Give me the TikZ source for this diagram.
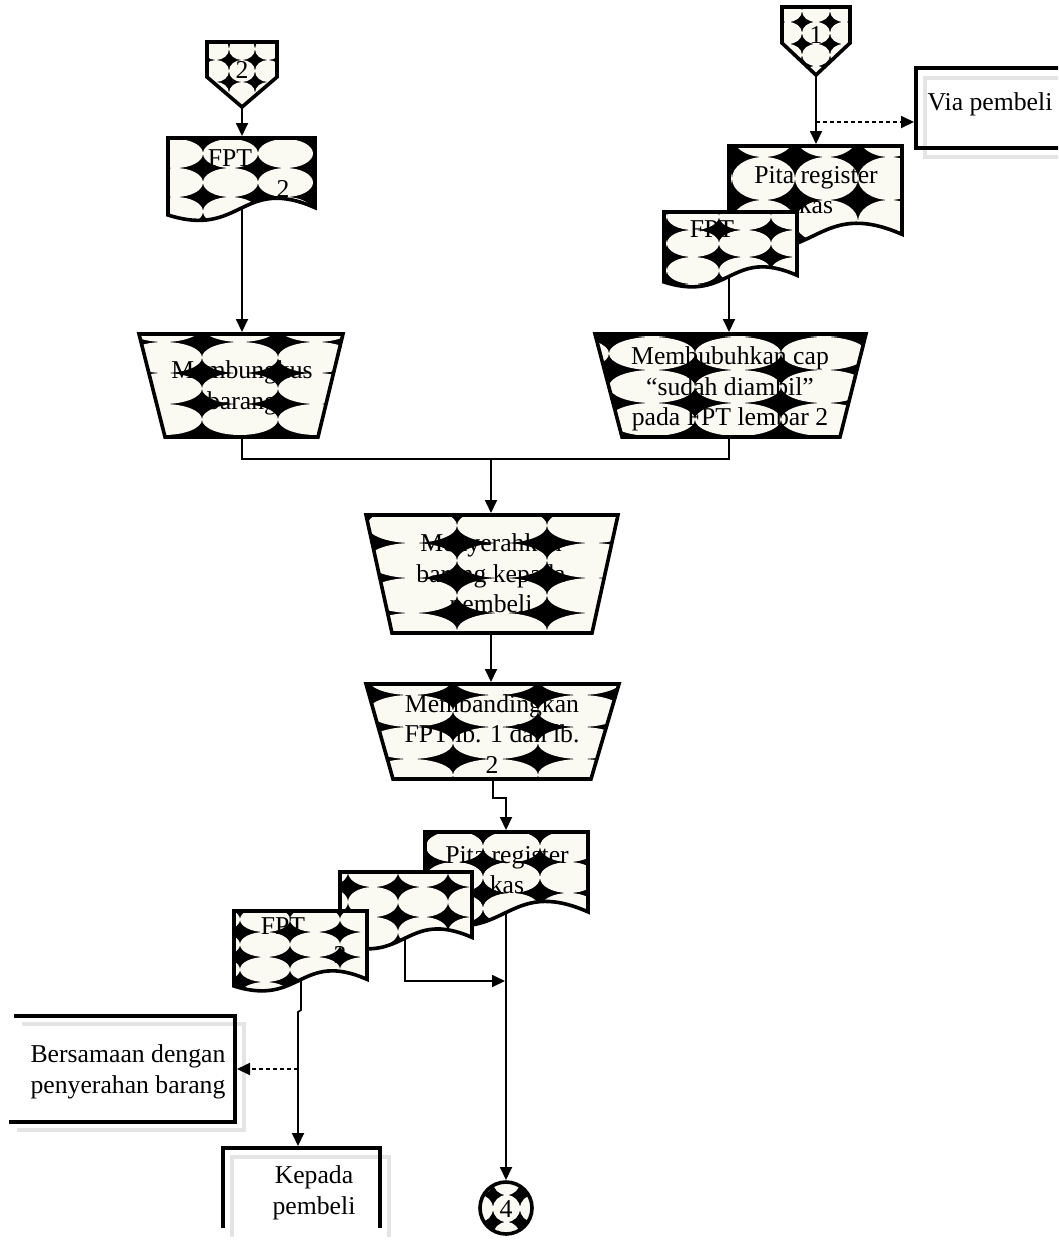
\documentclass[tikz,border=0pt]{standalone}
\usepackage{fontspec}
\setmainfont{Liberation Serif}
\usetikzlibrary{arrows.meta}
\definecolor{tilewhite}{RGB}{250,250,243}
\definecolor{shadowgray}{RGB}{228,228,228}
\tikzset{
  tile/.style={fill=tilewhite},
  outline/.style={draw=black, line width=3.6pt, line join=miter},
  flow/.style={line width=1.8pt, -{Triangle[length=13pt,width=12pt]}},
  plain/.style={line width=1.8pt},
  dotflow/.style={line width=1.8pt, dash pattern=on 4pt off 3pt, -{Triangle[length=13pt,width=12pt]}},
  txt/.style={inner sep=0pt, align=center, font=\fontsize{25.7}{30.5}\selectfont},
  shadowline/.style={draw=shadowgray, line width=3.6pt},
  boxline/.style={draw=black, line width=3.6pt, line join=miter},
}
% document symbol: top-left corner, width, height (wavy bottom edge)
\newcommand\docshape[4]{(#1,#2) -- ({#1+#3},#2) -- ({#1+#3},{#2+#4-0.05*#3}) .. controls ({#1+0.5*#3},{#2+#4-0.27*#3}) and ({#1+0.5*#3},{#2+#4+0.16*#3}) .. (#1,{#2+#4}) -- cycle}
% shape filled with a tiled ellipse texture, then outlined
% #1 path, #2-#5 bounding box, #6-#7 grid corner, #8-#9 cell size
\newcommand\tileshape[9]{%
  \begin{scope}
    \clip #1;
    \fill[black] (#2,#3) rectangle (#4,#5);
    \pgfmathtruncatemacro\tsia{floor((#2-#6)/#8)-1}%
    \pgfmathtruncatemacro\tsib{ceil((#4-#6)/#8)}%
    \pgfmathtruncatemacro\tsja{floor((#3-#7)/#9)-1}%
    \pgfmathtruncatemacro\tsjb{ceil((#5-#7)/#9)}%
    \foreach \i in {\tsia,...,\tsib}{%
      \foreach \j in {\tsja,...,\tsjb}{%
        \fill[tile] ({#6+(\i+0.5)*#8},{#7+(\j+0.5)*#9}) ellipse [x radius={#8*0.5pt}, y radius={#9*0.5pt}];
      }}
  \end{scope}
  \draw[outline] #1;}

\begin{document}
\begin{tikzpicture}[x=1pt,y=-1pt]
\useasboundingbox (0,0) rectangle (1058,1240);
\clip (0,0) rectangle (1058,1240);
\fill[white] (0,0) rectangle (1058,1240);

% ---- left column: connector 2, FPT sheet 2, packing ----
\tileshape{(207,42) -- (277,42) -- (277,77) -- (242,107) -- (207,77) -- cycle}{207}{42}{277}{107}{229}{60}{26}{22}
\tileshape{\docshape{168}{138}{147}{77}}{168}{138}{315}{240}{203}{168}{55}{29}
\tileshape{(139,334) -- (343,334) -- (318,437) -- (165,437) -- cycle}{139}{334}{343}{437}{202}{342}{76}{31}

% ---- right column: connector 1, register tape, FPT sheet 1, stamping ----
\tileshape{(782,7) -- (850,7) -- (850,43) -- (816,75) -- (782,43) -- cycle}{782}{7}{850}{75}{802}{22}{28}{22}
\tileshape{\docshape{729}{146}{173}{97}}{729}{146}{902}{275}{795}{157}{63}{43}
\tileshape{\docshape{664}{212}{133}{70}}{664}{212}{797}{300}{719}{230}{52}{27}
\tileshape{(595,334) -- (866,334) -- (840,437) -- (622,437) -- cycle}{595}{334}{866}{437}{695}{337}{86}{33}

% ---- centre: handing over, comparing ----
\tileshape{(366,515) -- (618,515) -- (592,633) -- (392,633) -- cycle}{366}{515}{618}{633}{457}{543}{90}{35}
\tileshape{(366,684) -- (619,684) -- (591,779) -- (393,779) -- cycle}{366}{684}{619}{779}{453}{695}{85}{32}

% ---- stacked documents ----
\tileshape{\docshape{425}{832}{163}{88}}{425}{832}{588}{960}{483}{862}{57}{31}
\tileshape{\docshape{340}{872}{132}{72}}{340}{872}{472}{970}{398}{887}{50}{30}
\tileshape{\docshape{234}{911}{133}{75}}{234}{911}{367}{1010}{240}{932}{50}{25}

% ---- connector 4 ----
\tileshape{(506,1208) circle [radius=26pt]}{478}{1180}{534}{1236}{493}{1195}{27}{27}

% ---- annotation boxes ----
\draw[shadowline] (1070,78) -- (925,78) -- (925,157) -- (1070,157);
\draw[boxline] (1070,68) -- (916,68) -- (916,148) -- (1070,148);
\draw[shadowline] (17,1130) -- (244,1130) -- (244,1024) -- (22,1024);
\draw[boxline] (9,1122) -- (235,1122) -- (235,1016) -- (14,1016);
\draw[shadowline] (232,1237) -- (232,1157) -- (389,1157) -- (389,1237);
\draw[boxline] (223,1228) -- (223,1148) -- (380,1148) -- (380,1228);

% ---- texts ----
\node[txt] (t-c2) at (242,70) {2};
\node[txt] (t-fpt2a) at (230,158) {FPT};
\node[txt] (t-fpt2b) at (283,189) {2};
\node[txt] (t-c1) at (816,35) {1};
\node[txt] (t-pita1) at (816,190) {Pita register\\kas};
\node[txt] (t-fpt1a) at (712,229) {FPT};
\node[txt] (t-fpt1b) at (770,260) {1};
\node[txt] (t-mb) at (242,388) {Membungkus\\barang};
\node[txt] (t-cap) at (730,389) {Membubuhkan cap\\“sudah diambil”\\pada FPT lembar 2};
\node[txt] (t-srh) at (491,576) {Menyerahkan\\barang kepada\\pembeli};
\node[txt] (t-bnd) at (492,734) {Membandingkan\\FPT lb. 1 dan lb.\\2};
\node[txt] (t-pita2) at (507,870) {Pita register\\kas};
\node[txt] (t-fpt3a) at (283,926) {FPT};
\node[txt] (t-fpt3b) at (340,955) {3};
\node[txt] (t-via) at (990,104) {Via pembeli};
\node[txt] (t-bs) at (128,1072) {Bersamaan dengan\\penyerahan barang};
\node[txt] (t-kp) at (314,1193) {Kepada\\pembeli};
\node[txt] (t-c4) at (506,1209) {4};

% ---- connector end points ----
\coordinate (c2-s) at (242,107);
\coordinate (fpt2-n) at (242,136);
\coordinate (fpt2-s) at (242,208);
\coordinate (mb-n) at (242,332);
\coordinate (mb-s) at (242,437);
\coordinate (c1-s) at (816,75);
\coordinate (c1-tap) at (816,122);
\coordinate (via-w) at (914,122);
\coordinate (pita1-n) at (816,144);
\coordinate (fpt1-s) at (729,276);
\coordinate (cap-n) at (729,332);
\coordinate (cap-s) at (729,437);
\coordinate (j-m) at (491,459);
\coordinate (srh-n) at (491,513);
\coordinate (srh-s) at (491,633);
\coordinate (bnd-n) at (491,682);
\coordinate (bnd-s) at (493,779);
\coordinate (bnd-bend) at (493,798);
\coordinate (pita2-n) at (506,830);
\coordinate (pita2-s) at (506,912);
\coordinate (c4-n) at (506,1180);
\coordinate (mid-s) at (405,940);
\coordinate (mid-tap) at (505,981);
\coordinate (fpt3-s) at (301,980);
\coordinate (fpt3-j1) at (301,1010);
\coordinate (fpt3-j2) at (298,1012);
\coordinate (kp-n) at (298,1146);
\coordinate (kp-tap) at (298,1069);
\coordinate (bs-e) at (237,1069);

% ---- connectors ----
\draw[flow] (c2-s) -- (fpt2-n);
\draw[flow] (fpt2-s) -- (mb-n);
\draw[flow] (c1-s) -- (pita1-n);
\draw[dotflow] (c1-tap) -- (via-w);
\draw[flow] (fpt1-s) -- (cap-n);
\draw[plain] (mb-s) |- (j-m) -| (cap-s);
\draw[flow] (j-m) -- (srh-n);
\draw[flow] (srh-s) -- (bnd-n);
\draw[flow] (bnd-s) -- (bnd-bend) -| (pita2-n);
\draw[flow] (pita2-s) -- (c4-n);
\draw[flow] (mid-s) |- (mid-tap);
\draw[flow] (fpt3-s) -- (fpt3-j1) -- (fpt3-j2) -- (kp-n);
\draw[dotflow] (kp-tap) -- (bs-e);
\end{tikzpicture}
\end{document}
